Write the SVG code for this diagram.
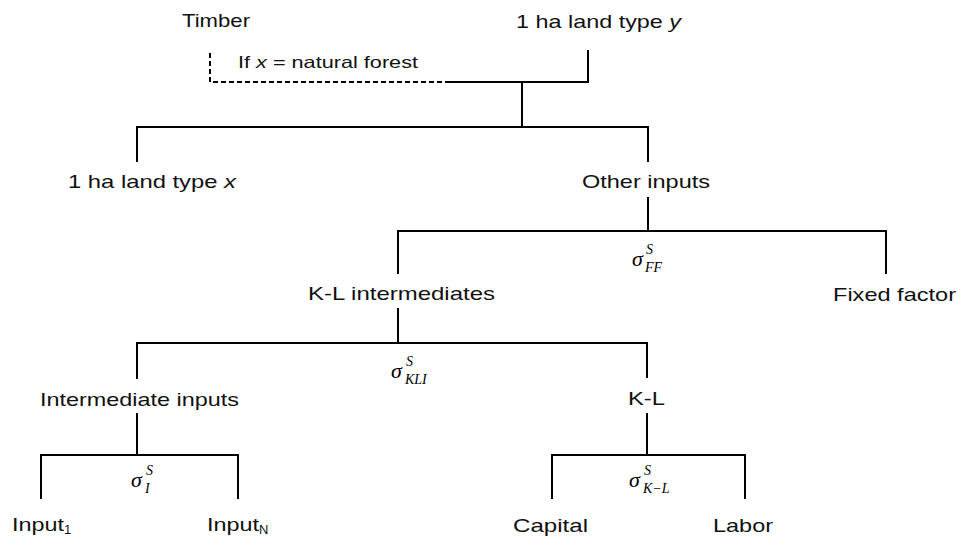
<svg xmlns="http://www.w3.org/2000/svg" width="961" height="538" viewBox="0 0 961 538">
<style>
.t{font-family:"Liberation Sans",Arial,sans-serif;font-size:18.5px;fill:#111}
.s{font-family:"Liberation Sans",Arial,sans-serif;font-size:13px;fill:#111}
.m{font-family:"Liberation Serif","DejaVu Serif",serif;font-style:italic;font-size:22px;fill:#000}
.ms{font-family:"Liberation Serif","DejaVu Serif",serif;font-style:italic;font-size:14px;fill:#000}
.l{stroke:#000;stroke-width:2;fill:none}
.d{stroke:#000;stroke-width:2;fill:none;stroke-dasharray:5 3}
</style>
<rect width="961" height="538" fill="#fff"/>
<g id="connectors">
<path class="d" d="M210,53 V82 H450"/>
<path class="l" d="M450,82 H588 V50"/>
<path class="l" d="M522,82 V127"/>
<path class="l" d="M137,162 V127 H648 V162"/>
<path class="l" d="M648,197 V231"/>
<path class="l" d="M398,274 V231 H886 V274"/>
<path class="l" d="M398,308 V343"/>
<path class="l" d="M137,379 V343 H647 V378"/>
<path class="l" d="M137,413 V455"/>
<path class="l" d="M41,499 V455 H238 V499"/>
<path class="l" d="M647,413 V455"/>
<path class="l" d="M552,499 V455 H745 V499"/>
</g>
<g id="timber"><text class="t" x="182" y="27" textLength="68" lengthAdjust="spacingAndGlyphs">Timber</text></g>
<g id="land-y"><text class="t" x="516" y="28" textLength="165" lengthAdjust="spacingAndGlyphs">1 ha land type <tspan font-style="italic">y</tspan></text></g>
<g id="condition"><text class="t" x="238" y="68" style="font-size:16.5px" textLength="180" lengthAdjust="spacingAndGlyphs">If <tspan font-style="italic">x</tspan> = natural forest</text></g>
<g id="land-x"><text class="t" x="68" y="188" textLength="168" lengthAdjust="spacingAndGlyphs">1 ha land type <tspan font-style="italic">x</tspan></text></g>
<g id="other-inputs"><text class="t" x="582" y="188" textLength="128" lengthAdjust="spacingAndGlyphs">Other inputs</text></g>
<g id="sigma-ff"><text class="m" x="632" y="266">σ</text><text class="ms" x="646" y="254">S</text><text class="ms" x="645" y="272">FF</text></g>
<g id="kl-intermediates"><text class="t" x="308" y="300" textLength="187" lengthAdjust="spacingAndGlyphs">K-L intermediates</text></g>
<g id="fixed-factor"><text class="t" x="833" y="301" textLength="123" lengthAdjust="spacingAndGlyphs">Fixed factor</text></g>
<g id="sigma-kli"><text class="m" x="391" y="378">σ</text><text class="ms" x="406" y="366">S</text><text class="ms" x="405" y="384">KLI</text></g>
<g id="intermediate-inputs"><text class="t" x="40" y="406" textLength="199" lengthAdjust="spacingAndGlyphs">Intermediate inputs</text></g>
<g id="kl"><text class="t" x="628" y="405" textLength="37" lengthAdjust="spacingAndGlyphs">K-L</text></g>
<g id="sigma-i"><text class="m" x="131" y="487">σ</text><text class="ms" x="146" y="475">S</text><text class="ms" x="145" y="493">I</text></g>
<g id="sigma-kl"><text class="m" x="629" y="487">σ</text><text class="ms" x="644" y="475">S</text><text class="ms" x="643" y="493">K−L</text></g>
<g id="input1"><text class="t" x="12" y="531" textLength="52" lengthAdjust="spacingAndGlyphs">Input</text><text class="s" x="64" y="534">1</text></g>
<g id="inputN"><text class="t" x="207" y="531" textLength="52" lengthAdjust="spacingAndGlyphs">Input</text><text class="s" x="259" y="534">N</text></g>
<g id="capital"><text class="t" x="513" y="532" textLength="75" lengthAdjust="spacingAndGlyphs">Capital</text></g>
<g id="labor"><text class="t" x="713" y="532" textLength="60" lengthAdjust="spacingAndGlyphs">Labor</text></g>
</svg>
